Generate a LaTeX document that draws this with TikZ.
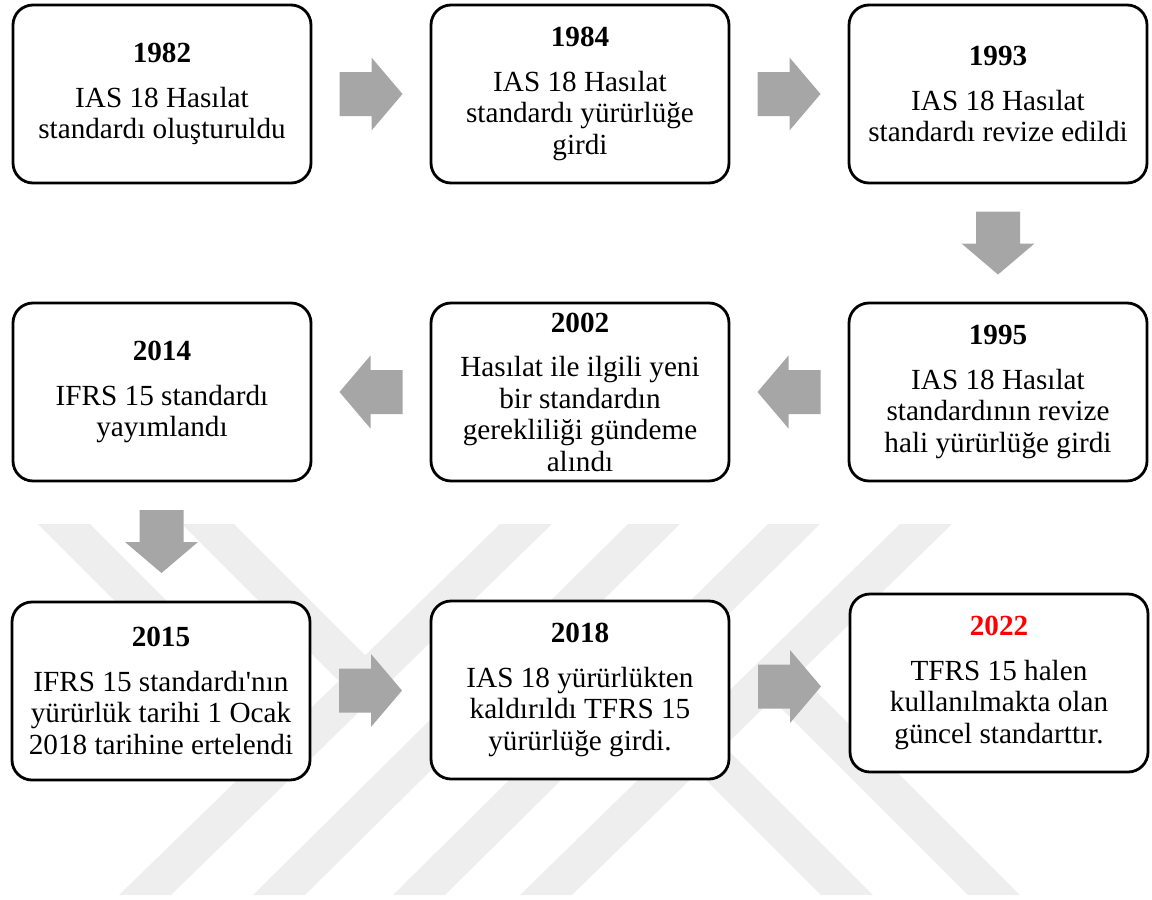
\documentclass[tikz,border=0pt]{standalone}
\usepackage{fontspec}
\setmainfont{Liberation Serif}[Ligatures=TeXOff]
\usetikzlibrary{calc}
\definecolor{arrowgray}{RGB}{166,166,166}
\definecolor{wmgray}{RGB}{238,238,238}
\definecolor{yearred}{RGB}{255,0,0}
\tikzset{
  evbox/.style={draw=black, line width=1.4pt, rounded corners=10pt, fill=white,
    minimum width=149pt, minimum height=89pt, inner sep=0pt, align=center,
    font=\fontsize{14.6}{15.75}\selectfont},
  arrowfill/.style={fill=arrowgray, draw=none},
  wm/.style={fill=wmgray, draw=none}
}
\newcommand\yr[1]{\textbf{#1}\\[6.5pt]}
\newcommand\blockarrow[2]{\fill[arrowfill,shift={(#1)},rotate=#2] (-31.5,-22) -- (0.5,-22) -- (0.5,-36.5) -- (31.5,0) -- (0.5,36.5) -- (0.5,22) -- (-31.5,22) -- cycle;}
\begin{document}
\begin{tikzpicture}[x=0.5pt,y=-0.5pt]
\useasboundingbox (0,0) rectangle (1152,900);
% watermark
\fill[wm] (38,524) -- (90,524) -- (305,739) -- (279,765) -- cycle;
\fill[wm] (182,524) -- (234,524) -- (378,668) -- (352,694) -- cycle;
\fill[wm] (500,524) -- (552,524) -- (171,895) -- (119,895) -- cycle;
\fill[wm] (628,524) -- (680,524) -- (305,895) -- (253,895) -- cycle;
\fill[wm] (768,524) -- (820,524) -- (445,895) -- (393,895) -- cycle;
\fill[wm] (900,524) -- (952,524) -- (572,895) -- (520,895) -- cycle;
\fill[wm] (685,759) -- (711,733) -- (873,895) -- (821,895) -- cycle;
\fill[wm] (760,687) -- (786,661) -- (1020,895) -- (968,895) -- cycle;
% boxes
\node[evbox] (b1982) at (162,94) {\yr{1982}IAS 18 Hasılat\\standardı oluşturuldu};
\node[evbox] (b1984) at (580,94) {\yr{1984}IAS 18 Hasılat\\standardı yürürlüğe\\girdi};
\node[evbox] (b1993) at (998,94) {\yr{1993}IAS 18 Hasılat\\standardı revize edildi};
\node[evbox] (b1995) at (998,392) {\yr{1995}IAS 18 Hasılat\\standardının revize\\hali yürürlüğe girdi};
\node[evbox] (b2002) at (580,392) {\yr{2002}Hasılat ile ilgili yeni\\bir standardın\\gerekliliği gündeme\\alındı};
\node[evbox] (b2014) at (162,392) {\yr{2014}IFRS 15 standardı\\yayımlandı};
\node[evbox] (b2015) at (161,691) {\yr{2015}IFRS 15 standardı'nın\\yürürlük tarihi 1 Ocak\\2018 tarihine ertelendi};
\node[evbox] (b2018) at (580,690) {\yr{2018}IAS 18 yürürlükten\\kaldırıldı TFRS 15\\yürürlüğe girdi.};
\node[evbox] (b2022) at (999,683) {\textcolor{yearred}{\textbf{2022}}\\[6.5pt]TFRS 15 halen\\kullanılmakta olan\\güncel standarttır.};
% arrows
\coordinate (a1) at ($(b1982.east)!0.5!(b1984.west)$);
\coordinate (a2) at ($(b1984.east)!0.5!(b1993.west)$);
\coordinate (a3) at ($(b1993.south)!0.5!(b1995.north)$);
\coordinate (a4) at ($(b1995.west)!0.5!(b2002.east)$);
\coordinate (a5) at ($(b2002.west)!0.5!(b2014.east)$);
\coordinate (a6) at ($(b2014.south)!0.5!(b2015.north)$);
\coordinate (a7) at ($(b2015.east)!0.5!(b2018.west)$);
\coordinate (a8) at ($(b2018.east)!0.5!(b2022.west)$);
\blockarrow{a1}{0}
\blockarrow{a2}{0}
\blockarrow{a3}{-90}
\blockarrow{a4}{180}
\blockarrow{a5}{180}
\blockarrow{a6}{-90}
\blockarrow{a7}{0}
\blockarrow{a8}{0}
\end{tikzpicture}
\end{document}
